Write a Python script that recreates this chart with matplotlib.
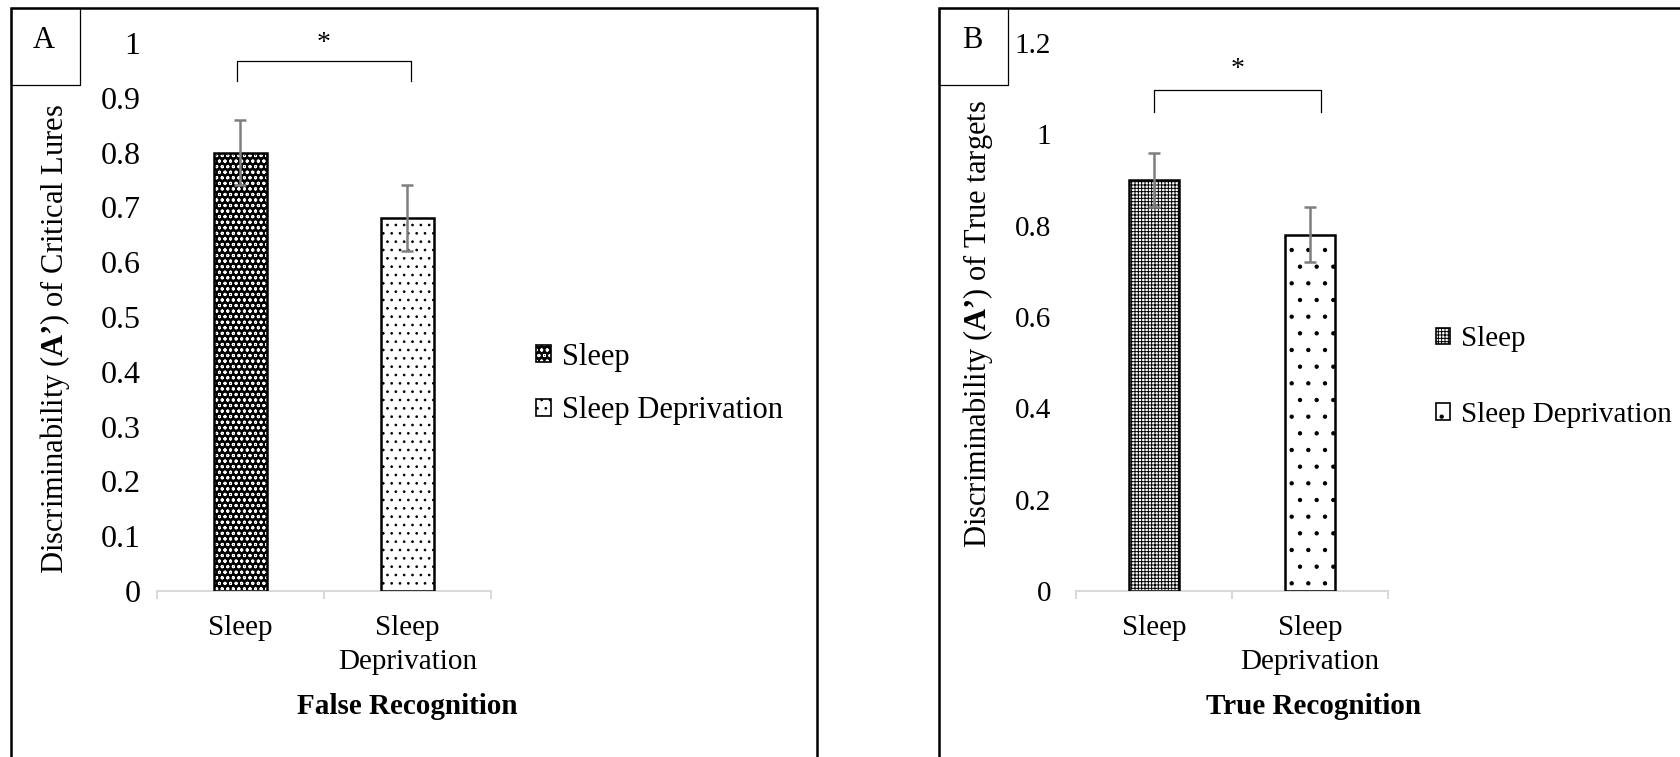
import matplotlib
matplotlib.use("Agg")
import matplotlib.pyplot as plt
from matplotlib.patches import Patch, Rectangle
from matplotlib.legend_handler import HandlerTuple
import numpy as np

plt.rcParams['font.family'] = ['Liberation Serif', 'DejaVu Serif']
plt.rcParams['mathtext.fontset'] = 'custom'
plt.rcParams['mathtext.rm'] = 'Liberation Serif'
plt.rcParams['mathtext.bf'] = 'Liberation Serif:bold'
plt.rcParams['hatch.linewidth'] = 0.7

groups = ["Sleep", "Sleep\nDeprivation"]
legend_names = ["Sleep", "Sleep Deprivation"]

# A: false recognition (critical lures)
false_vals = [0.80, 0.68]
false_err = [0.06, 0.06]
# B: true recognition (true targets)
true_vals = [0.90, 0.78]
true_err = [0.06, 0.06]

# significance brackets: x from, x to, y top, y bottom, star y
false_sig = [-0.02, 1.02, 0.967, 0.93, 1.0]
true_sig = [0.0, 1.07, 1.097, 1.049, 1.143]

W, H = 1681, 757
fig = plt.figure(figsize=(W / 100, H / 100), dpi=100)


def panel(ax, vals, errs, styles, ymax, step, ylabel, xlabel, sig,
          ylab_xy, xlab_xy, leg_xy, lspace, tick_fs, ypad, leg_fs):
    x = np.arange(len(vals))
    handles = []
    for i, (fc, hc, h) in enumerate(styles):
        ax.bar(x[i], vals[i], width=0.32, color=fc, edgecolor=hc, hatch=h,
               linewidth=0, zorder=2)
        ax.bar(x[i], vals[i], width=0.32, fill=False, edgecolor='black',
               linewidth=1.8, zorder=3)
        handles.append((Patch(facecolor=fc, edgecolor=hc, hatch=h, linewidth=0),
                        Patch(fill=False, edgecolor='black', linewidth=1.2)))
    ax.errorbar(x, vals, yerr=errs, fmt='none', ecolor='#7f7f7f',
                elinewidth=1.8, capsize=4.5, capthick=1.8, zorder=4)

    ax.set_xlim(-0.5, len(vals) - 0.5)
    ax.set_ylim(0, ymax)
    ax.set_yticks(np.arange(0, ymax + step / 2, step))
    ax.yaxis.set_major_formatter(lambda v, p: f'{v:g}')
    for s in ['top', 'right', 'left']:
        ax.spines[s].set_visible(False)
    ax.spines['bottom'].set_color('#d9d9d9')
    ax.spines['bottom'].set_linewidth(1.5)
    ax.tick_params(axis='y', length=0, pad=ypad, labelsize=tick_fs)
    ax.set_xticks(np.arange(len(vals) + 1) - 0.5)
    ax.set_xticks(x, groups, minor=True)
    ax.tick_params(axis='x', which='major', length=6, width=1.5,
                   color='#d9d9d9', labelbottom=False)
    ax.tick_params(axis='x', which='minor', length=0, pad=17, labelsize=21)
    for t in ax.get_xticklabels(minor=True):
        t.set_linespacing(1.4)

    ax.set_ylabel(ylabel, fontsize=22)
    ax.yaxis.label.set_va('center')
    ax.yaxis.set_label_coords(*ylab_xy)
    ax.set_xlabel(xlabel, fontsize=21, fontweight='bold')
    ax.xaxis.label.set_va('center')
    ax.xaxis.set_label_coords(*xlab_xy)

    x0, x1, yt, yb, ys = sig
    ax.plot([x0, x0, x1, x1], [yb, yt, yt, yb], color='black', lw=0.9,
            clip_on=False)
    ax.text((x0 + x1) / 2, ys, '*', ha='center', va='center', fontsize=20,
            clip_on=False)

    ax.legend(handles, legend_names,
              handler_map={tuple: HandlerTuple(ndivide=1, pad=0)},
              loc='center left', bbox_to_anchor=leg_xy,
              bbox_transform=fig.transFigure, frameon=False, fontsize=leg_fs,
              handlelength=0.48, handleheight=0.48, handletextpad=0.38,
              labelspacing=lspace, borderpad=0, borderaxespad=0)


axA = fig.add_axes([157 / W, 1 - 591 / H, 334 / W, 548 / H])
panel(axA, false_vals, false_err,
      [('black', 'white', 'ooo'), ('white', 'black', '..')],
      1.0, 0.1,
      "Discriminability ($\\mathbf{A\u2019}$) of Critical Lures",
      "False Recognition", false_sig,
      (-0.305, 0.46), (0.749, -0.21), (536 / W, 1 - 384 / H), 0.8,
      23, 12, 22)

axB = fig.add_axes([1076 / W, 1 - 591 / H, 312 / W, 548 / H])
panel(axB, true_vals, true_err,
      [('white', 'black', '+++++'), ('white', 'black', '.')],
      1.2, 0.2,
      "Discriminability ($\\mathbf{A\u2019}$) of True targets",
      "True Recognition", true_sig,
      (-0.314, 0.487), (0.76, -0.21), (1436 / W, 1 - 377 / H), 1.7,
      21, 18, 21)

# panel frames and letter boxes
for (px0, px1), letter in [((11, 817), 'A'), ((939, W + 20), 'B')]:
    fig.add_artist(Rectangle((px0 / W, -0.05), (px1 - px0) / W, 1.05 - 8 / H,
                             transform=fig.transFigure, fill=False,
                             edgecolor='black', lw=1.8))
    fig.add_artist(Rectangle((px0 / W, 1 - 85 / H), 69 / W, 77 / H,
                             transform=fig.transFigure, fill=False,
                             edgecolor='black', lw=0.9))
    fig.text((px0 + 33) / W, 1 - 41 / H, letter, ha='center', va='center',
             fontsize=22)

fig.savefig("out.png", dpi=100)
